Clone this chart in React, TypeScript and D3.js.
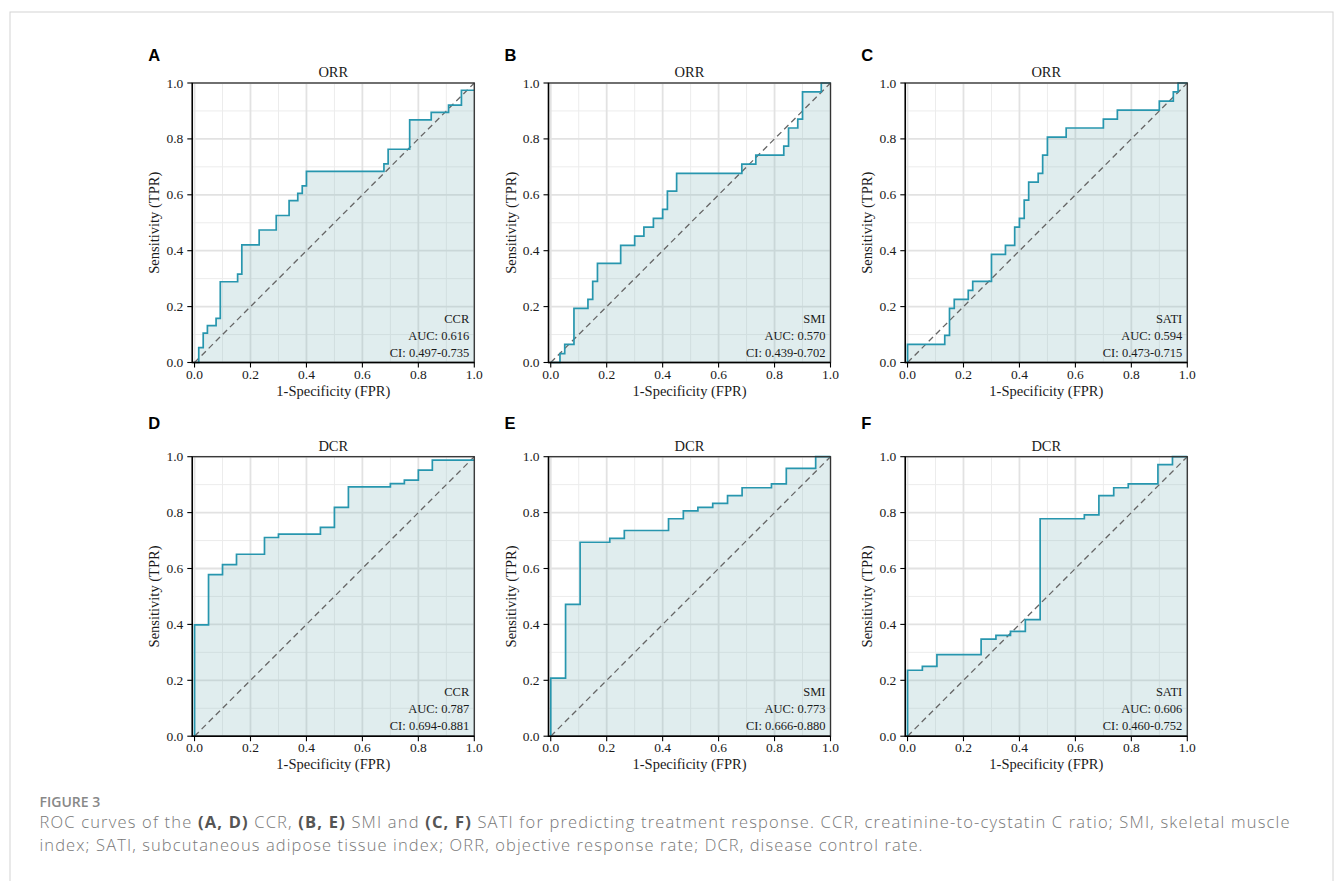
import React from 'react';
import * as d3 from 'd3';

// ROC step corners (1-specificity, sensitivity)
const ccrOrrFpr = [0, 0.015, 0.031, 0.046, 0.077, 0.092, 0.154, 0.169, 0.231, 0.292, 0.338, 0.369, 0.385, 0.4, 0.677, 0.692, 0.769, 0.846, 0.908, 0.954, 1];
const ccrOrrTpr = [0, 0.053, 0.105, 0.132, 0.158, 0.289, 0.316, 0.421, 0.474, 0.526, 0.579, 0.605, 0.632, 0.684, 0.711, 0.763, 0.868, 0.895, 0.921, 0.974, 0.974];

const smiOrrFpr = [0, 0.033, 0.05, 0.083, 0.133, 0.15, 0.167, 0.25, 0.3, 0.333, 0.367, 0.4, 0.417, 0.45, 0.683, 0.733, 0.833, 0.85, 0.883, 0.9, 0.967, 1];
const smiOrrTpr = [0, 0.032, 0.065, 0.194, 0.226, 0.29, 0.355, 0.419, 0.452, 0.484, 0.516, 0.548, 0.613, 0.677, 0.71, 0.742, 0.774, 0.839, 0.871, 0.968, 1, 1];

const satiOrrFpr = [0, 0, 0.133, 0.15, 0.167, 0.217, 0.233, 0.3, 0.35, 0.383, 0.4, 0.417, 0.433, 0.467, 0.483, 0.5, 0.567, 0.7, 0.75, 0.9, 0.95, 0.967, 1];
const satiOrrTpr = [0, 0.065, 0.097, 0.194, 0.226, 0.258, 0.29, 0.387, 0.419, 0.484, 0.516, 0.581, 0.645, 0.677, 0.742, 0.806, 0.839, 0.871, 0.903, 0.935, 0.968, 1, 1];

const ccrDcrFpr = [0, 0, 0.05, 0.1, 0.15, 0.25, 0.3, 0.45, 0.5, 0.55, 0.7, 0.75, 0.8, 0.85, 1];
const ccrDcrTpr = [0, 0.398, 0.578, 0.614, 0.651, 0.711, 0.723, 0.747, 0.819, 0.892, 0.904, 0.916, 0.952, 0.988, 0.988];

const smiDcrFpr = [0, 0, 0.053, 0.105, 0.211, 0.263, 0.421, 0.474, 0.526, 0.579, 0.632, 0.684, 0.789, 0.842, 0.947, 1];
const smiDcrTpr = [0, 0.208, 0.472, 0.694, 0.708, 0.736, 0.778, 0.806, 0.819, 0.833, 0.861, 0.889, 0.903, 0.958, 1, 1];

const satiDcrFpr = [0, 0, 0.053, 0.105, 0.263, 0.316, 0.368, 0.421, 0.474, 0.632, 0.684, 0.737, 0.789, 0.895, 0.947, 1];
const satiDcrTpr = [0, 0.236, 0.25, 0.292, 0.347, 0.361, 0.375, 0.417, 0.778, 0.792, 0.861, 0.889, 0.903, 0.972, 1, 1];

const panelLetters = ['A', 'B', 'C', 'D', 'E', 'F'];
const outcomes = ['ORR', 'ORR', 'ORR', 'DCR', 'DCR', 'DCR'];
const markers = ['CCR', 'SMI', 'SATI', 'CCR', 'SMI', 'SATI'];
const aucs = ['0.616', '0.570', '0.594', '0.787', '0.773', '0.606'];
const cis = ['0.497-0.735', '0.439-0.702', '0.473-0.715', '0.694-0.881', '0.666-0.880', '0.460-0.752'];
const fprs = [ccrOrrFpr, smiOrrFpr, satiOrrFpr, ccrDcrFpr, smiDcrFpr, satiDcrFpr];
const tprs = [ccrOrrTpr, smiOrrTpr, satiOrrTpr, ccrDcrTpr, smiDcrTpr, satiDcrTpr];

const majorTicks = [0, 0.2, 0.4, 0.6, 0.8, 1.0];
const minorTicks = [0.1, 0.3, 0.5, 0.7, 0.9];

const W = 1335;
const H = 881;
const colLeft = [192.3, 548.5, 905.3];
const rowTop = [83, 456.7];
const pw = 282;
const ph = 279.5;

const serif = "'Liberation Serif', 'Times New Roman', serif";
const sans = "'Liberation Sans', Arial, sans-serif";
const capFont = "'Open Sans', 'Noto Sans', sans-serif";
const lineColor = '#2796ae';

const fmt = d3.format('.1f');

type P = { fpr: number[]; tpr: number[]; i: number };

const Panel = ({ fpr, tpr, i }: P) => {
  const left = colLeft[i % 3];
  const top = rowTop[Math.floor(i / 3)];
  const x = d3.scaleLinear().domain([-0.008, 1]).range([left, left + pw]);
  const y = d3.scaleLinear().domain([0, 1]).range([top + ph, top]);
  const pts: [number, number][] = fpr.map((f, k) => [f, tpr[k]]);
  const line = d3.line<[number, number]>().x(d => x(d[0])).y(d => y(d[1])).curve(d3.curveStepAfter);
  const area = d3.area<[number, number]>().x(d => x(d[0])).y0(y(0)).y1(d => y(d[1])).curve(d3.curveStepAfter);
  const right = left + pw;
  const bottom = top + ph;

  return (
    <g>
      <text x={left - 44} y={i < 3 ? 61 : 428.5} fontFamily={sans} fontWeight="bold" fontSize={16.5} fill="#000">
        {panelLetters[i]}
      </text>
      <text x={(left + right) / 2} y={top - 6} textAnchor="middle" fontFamily={serif} fontSize={14.5} fill="#1a1a1a">
        {outcomes[i]}
      </text>
      <rect x={left} y={top} width={pw} height={ph} fill="#fff" />
      {minorTicks.map(t => (
        <g key={'m' + t}>
          <line x1={x(t)} x2={x(t)} y1={top} y2={bottom} stroke="#ececec" strokeWidth={1} />
          <line x1={left} x2={right} y1={y(t)} y2={y(t)} stroke="#ececec" strokeWidth={1} />
        </g>
      ))}
      {majorTicks.map(t => (
        <g key={'M' + t}>
          <line x1={x(t)} x2={x(t)} y1={top} y2={bottom} stroke="#e2e2e2" strokeWidth={1.8} />
          <line x1={left} x2={right} y1={y(t)} y2={y(t)} stroke="#e2e2e2" strokeWidth={1.8} />
        </g>
      ))}
      <path d={area(pts) || ''} fill="#86b8bf" fillOpacity={0.26} />
      <line x1={x(0)} y1={y(0)} x2={x(1)} y2={y(1)} stroke="#666" strokeWidth={1.3} strokeDasharray="6,4" />
      <path d={line(pts) || ''} fill="none" stroke={lineColor} strokeWidth={1.7} />
      <g fontFamily={serif} fontSize={12.5} fill="#1a1a1a" textAnchor="end">
        <text x={right - 5} y={bottom - 40}>{markers[i]}</text>
        <text x={right - 5} y={bottom - 23}>AUC: {aucs[i]}</text>
        <text x={right - 5} y={bottom - 6}>CI: {cis[i]}</text>
      </g>
      <rect x={left} y={top} width={pw} height={ph} fill="none" stroke="#333" strokeWidth={1.3} />
      <line x1={left} x2={left} y1={top} y2={bottom + 0.6} stroke="#000" strokeWidth={1.4} />
      <line x1={left - 0.6} x2={right} y1={bottom} y2={bottom} stroke="#000" strokeWidth={1.4} />
      {majorTicks.map(t => (
        <g key={'t' + t}>
          <line x1={x(t)} x2={x(t)} y1={bottom} y2={bottom + 5} stroke="#000" strokeWidth={1.1} />
          <text x={x(t)} y={bottom + 16} textAnchor="middle" fontFamily={serif} fontSize={13.5} fill="#1a1a1a">
            {fmt(t)}
          </text>
          <line x1={left - 5} x2={left} y1={y(t)} y2={y(t)} stroke="#000" strokeWidth={1.1} />
          <text x={left - 9} y={y(t) + 4.5} textAnchor="end" fontFamily={serif} fontSize={13.5} fill="#1a1a1a">
            {fmt(t)}
          </text>
        </g>
      ))}
      <text x={(left + right) / 2} y={bottom + 33} textAnchor="middle" fontFamily={serif} fontSize={14.5} fill="#1a1a1a">
        1-Specificity (FPR)
      </text>
      <text
        transform={`translate(${left - 33},${(top + bottom) / 2}) rotate(-90)`}
        textAnchor="middle"
        fontFamily={serif}
        fontSize={14.5}
        fill="#1a1a1a"
      >
        Sensitivity (TPR)
      </text>
    </g>
  );
};

export default function App() {
  const bold = { fontWeight: 700, fill: '#555' };
  return (
    <svg width={W} height={H} style={{ position: 'absolute', left: 0, top: 0, background: '#fff' }}>
      <rect x={10} y={12} width={1323} height={H + 20} fill="#fff" stroke="#d4d4d4" strokeWidth={1} />
      {fprs.map((f, i) => (
        <Panel key={i} fpr={f} tpr={tprs[i]} i={i} />
      ))}
      <text x={39.5} y={807} fontFamily={capFont} fontSize={14} fontWeight={600} fill="#888">
        FIGURE 3
      </text>
      <text x={39.5} y={828} fontFamily={capFont} fontSize={16.5} fontWeight={300} fill="#777" textLength={1250} lengthAdjust="spacing">
        ROC curves of the <tspan {...bold}>(A, D)</tspan> CCR, <tspan {...bold}>(B, E)</tspan> SMI and{' '}
        <tspan {...bold}>(C, F)</tspan> SATI for predicting treatment response. CCR, creatinine-to-cystatin C ratio; SMI, skeletal muscle
      </text>
      <text x={39.5} y={851} fontFamily={capFont} fontSize={16.5} fontWeight={300} fill="#777" textLength={883} lengthAdjust="spacing">
        index; SATI, subcutaneous adipose tissue index; ORR, objective response rate; DCR, disease control rate.
      </text>
    </svg>
  );
}
